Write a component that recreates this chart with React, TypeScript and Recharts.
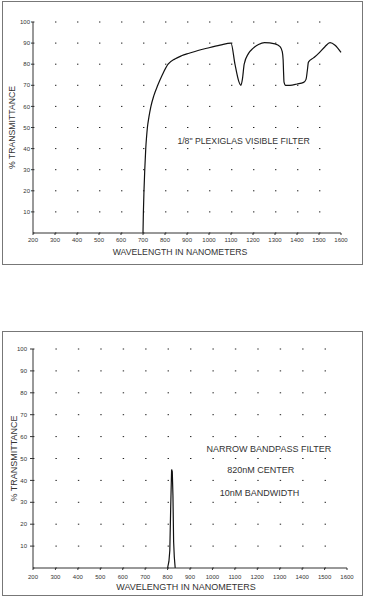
import { LineChart, Line, XAxis, YAxis, CartesianGrid, ReferenceDot, Label } from 'recharts';

// 1/8" plexiglas visible filter
const plexiWavelength = [
  700, 701.8, 704.5, 708, 712.5, 715.8, 720, 727, 736, 749, 767, 788, 814, 845, 875, 910, 950, 1000, 1050, 1100,
  1118, 1135, 1145, 1152, 1160, 1179, 1200, 1225, 1252, 1300, 1323, 1333, 1337, 1339, 1341, 1348,
  1368, 1400, 1430, 1441, 1447, 1452, 1475, 1497, 1527, 1550, 1573, 1600,
];
const plexiTransmittance = [
  0, 10, 20, 30, 40, 45, 50, 55, 60, 65, 70, 75, 80, 82.5, 84, 85.2, 86.5, 87.8, 89, 90,
  80, 72, 70, 73, 80, 85, 87.5, 89.3, 90.2, 89.6, 88.3, 86, 82, 76, 71.5, 70,
  70, 70.6, 71.4, 72.8, 77, 81, 83, 85, 88.3, 90.2, 89, 85.6,
];

// narrow bandpass filter, 820nM center
const bandWavelength = [800, 806, 810, 814, 818, 821, 824, 827, 830, 834];
const bandTransmittance = [0, 3, 8, 28, 45, 44, 33, 12, 5, 0];

const wavelengthTicks = [200, 300, 400, 500, 600, 700, 800, 900, 1000, 1100, 1200, 1300, 1400, 1500, 1600];
const transmittanceTicks = [10, 20, 30, 40, 50, 60, 70, 80, 90, 100];

const plexiData = plexiWavelength.map((nm, i) => ({ nm, t: plexiTransmittance[i] }));
const bandData = bandWavelength.map((nm, i) => ({ nm, t: bandTransmittance[i] }));

const FONT = '"Liberation Sans", Arial, sans-serif';
const INK = '#333';

function Frame({ top, height }: { top: number; height: number }) {
  return (
    <div
      style={{
        position: 'absolute',
        left: 2,
        top,
        width: 361,
        height,
        boxSizing: 'border-box',
        border: '1px solid #777',
        pointerEvents: 'none',
      }}
    />
  );
}

export default function App() {
  const tick = { fontSize: 6, fill: INK, fontFamily: FONT };
  const note = { fontSize: 8.7, fill: INK, fontFamily: FONT };
  const note2 = { fontSize: 9, fill: INK, fontFamily: FONT };

  return (
    <div style={{ position: 'absolute', left: 0, top: 0, width: 365, height: 597, background: '#fff' }}>
      {/* top panel */}
      <div style={{ position: 'absolute', left: 2, top: 1 }}>
        <LineChart width={361} height={263} data={plexiData} margin={{ top: 21, right: 22, left: 0, bottom: 0 }}>
          <CartesianGrid vertical={false} stroke="#222" strokeDasharray="1.4 20.6" />
          <XAxis
            dataKey="nm"
            type="number"
            domain={[200, 1600]}
            ticks={wavelengthTicks}
            interval={0}
            height={31}
            tickSize={2}
            tickMargin={3}
            stroke={INK}
            tick={tick}
          >
            <Label
              value="WAVELENGTH IN NANOMETERS"
              position="insideBottom"
              offset={9}
              dx={-7}
              style={{ fontSize: 8.7, fill: INK, fontFamily: FONT }}
            />
          </XAxis>
          <YAxis
            type="number"
            domain={[0, 100]}
            ticks={transmittanceTicks}
            interval={0}
            width={31}
            tickSize={2}
            tickMargin={1}
            stroke={INK}
            tick={tick}
          >
            <Label
              value="% TRANSMITTANCE"
              angle={-90}
              position="insideLeft"
              offset={10}
              style={{ fontSize: 8.7, fill: INK, fontFamily: FONT, textAnchor: 'middle' }}
            />
          </YAxis>
          <Line dataKey="t" type="monotone" stroke="#111" strokeWidth={1.2} dot={false} isAnimationActive={false} />
          <ReferenceDot x={1157} y={43.6} r={0} stroke="none">
            <Label value={'1/8" PLEXIGLAS VISIBLE FILTER'} position="center" style={note} />
          </ReferenceDot>
        </LineChart>
      </div>
      <Frame top={1} height={264} />

      {/* bottom panel */}
      <div style={{ position: 'absolute', left: 2, top: 331 }}>
        <LineChart width={361} height={265} data={bandData} margin={{ top: 18, right: 16, left: 0, bottom: 0 }}>
          <CartesianGrid vertical={false} stroke="#222" strokeDasharray="1.4 21.03" />
          <XAxis
            dataKey="nm"
            type="number"
            domain={[200, 1600]}
            ticks={wavelengthTicks}
            interval={0}
            height={28}
            tickSize={2}
            tickMargin={5}
            stroke={INK}
            tick={tick}
          >
            <Label
              value="WAVELENGTH IN NANOMETERS"
              position="insideBottom"
              offset={6}
              dx={-4}
              style={{ fontSize: 9, fill: INK, fontFamily: FONT }}
            />
          </XAxis>
          <YAxis
            type="number"
            domain={[0, 100]}
            ticks={transmittanceTicks}
            interval={0}
            width={31}
            tickSize={3}
            tickMargin={3}
            stroke={INK}
            tick={tick}
          >
            <Label
              value="% TRANSMITTANCE"
              angle={-90}
              position="insideLeft"
              offset={12}
              style={{ fontSize: 9, fill: INK, fontFamily: FONT, textAnchor: 'middle' }}
            />
          </YAxis>
          <Line dataKey="t" type="linear" stroke="#111" strokeWidth={1.2} dot={false} isAnimationActive={false} />
          <ReferenceDot x={1252} y={54.3} r={0} stroke="none">
            <Label value="NARROW BANDPASS FILTER" position="center" style={note2} />
          </ReferenceDot>
          <ReferenceDot x={1216} y={44.7} r={0} stroke="none">
            <Label value="820nM CENTER" position="center" style={note2} />
          </ReferenceDot>
          <ReferenceDot x={1210} y={34.2} r={0} stroke="none">
            <Label value="10nM BANDWIDTH" position="center" style={note2} />
          </ReferenceDot>
        </LineChart>
      </div>
      <Frame top={331} height={265} />
    </div>
  );
}
